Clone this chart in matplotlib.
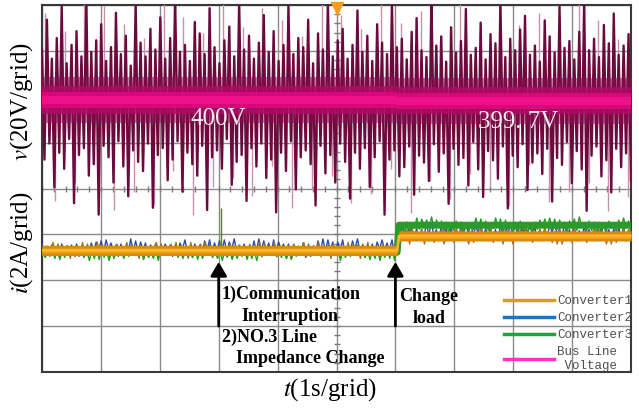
import numpy as np
import matplotlib.pyplot as plt
from matplotlib.lines import Line2D

plt.rcParams['mathtext.fontset'] = 'stix'
SERIF = 'Liberation Serif'

# scope time base: 1 s/grid, 10 grids
t_start, t_end = 0.0, 10.0
t_step = 6.03      # load change
t_comm = 3.0       # communication interruption + NO.3 line impedance change

# bus line voltage (V): level before / after the load change
v_level = [400.0, 399.7]
# upward / downward excursions of the voltage trace (V)
v_hi = [22, 35, 18, 27, 41, 16, 24, 30, 19, 44, 21, 26, 33, 17, 23, 38, 20, 28, 15, 42,
        25, 19, 31, 22, 36, 18, 27, 45, 21, 24, 17, 34, 29, 20, 40, 23, 16, 26, 32, 19,
        43, 22, 28, 18, 25, 37, 21, 30, 17, 24, 41, 20, 27, 23, 35, 16, 29, 22, 44, 19,
        26, 31, 18, 24, 39, 21, 28, 17, 33, 25, 20, 42, 23, 27, 18, 30, 36, 22, 19, 45,
        24, 28, 17, 32, 21, 26, 40, 20, 23, 34, 18, 29, 25, 43, 19, 27, 22, 31, 37, 20,
        24, 17, 35, 28, 21, 41, 23, 26, 18, 30, 44, 22, 27, 19, 33, 25, 38, 20, 24, 29]
v_lo = [26, 19, 38, 23, 30, 17, 45, 24, 21, 33, 28, 50, 20, 25, 36, 18, 29, 42, 22, 27,
        31, 19, 47, 24, 21, 35, 26, 18, 40, 23, 28, 33, 20, 48, 25, 22, 30, 17, 37, 27,
        24, 44, 21, 29, 19, 34, 26, 49, 23, 31, 18, 39, 25, 22, 28, 46, 20, 32, 24, 36,
        19, 27, 43, 23, 30, 21, 38, 25, 18, 50, 26, 22, 33, 29, 20, 41, 24, 27, 35, 19,
        31, 23, 45, 21, 28, 25, 37, 18, 30, 42, 22, 26, 34, 20, 47, 24, 29, 19, 39, 27,
        23, 32, 21, 44, 25, 28, 18, 36, 22, 30, 48, 24, 20, 33, 26, 40, 21, 29, 23, 35]
# pale overlaid spikes (V, signed)
v_light = [38, -44, 30, -36, 45, -28, 41, -48, 33, -40, 27, -46, 43, -31, 36, -50, 29, -38, 44, -34,
           32, -42, 40, -29, 35, -47, 28, -39, 46, -33, 37, -45, 31, -41, 42, -30, 34, -49, 39, -35,
           26, -43, 45, -32, 30, -37, 41, -46, 33, -28, 38, -44, 29, -40, 44, -36, 35, -48, 27, -42]

# converter currents (A): level before / after the load change
i1_level = [5.30, 5.93]
i2_level = [5.40, 6.12]
i3_level = [5.22, 6.40]
# ripple amplitude per sample, one digit each, sign alternates sample to sample
i1_ripple = ("2413524132" "3524135241" "1352413524" "4231524315" "2514325143" "3142531425"
             "5231425314" "2453124531" "3125431254" "4312541325" "1543215432" "3254132541"
             "2431524315" "4153241532" "3214532145" "5132451324" "2345123451" "4215342153"
             "1354213542" "3521435214" "2143521435" "4532145321" "3412534125" "2534125341")
i2_ripple = ("4625371846" "2735481927" "5362748153" "3846259374" "6257384912" "4738265183"
             "2946357284" "5372846193" "3648257392" "7254836147" "4836275918" "2574938265"
             "6385247193" "3927456182" "5284736491" "4637258394" "2859364718" "6372845196"
             "3548276394" "7263948152" "4825367193" "3697254816" "5426379284" "2738465913")
i3_ripple = ("3524163725" "4152736418" "2637451826" "5316247153" "3725164832" "4263751624"
             "1537264385" "3648152736" "2457361824" "5163742516" "3724516382" "4261537452"
             "2835146273" "3517264815" "4628351736" "2374615283" "5146372541" "3625147362"
             "4513726854" "2736451827" "3452617364" "5237416582" "2645371526" "4316527348")
ripple_unit = {'i1': 0.07, 'i2': 0.045, 'i3': 0.045}   # A per digit
# green glitch at the interruption instant (t, A)
i3_glitch = (3.04, 7.15)

legend_labels = ['Converter1', 'Converter2', 'Converter3', 'Bus Line\n Voltage']
legend_colors = ['#d4a017', '#1a75c9', '#1fa33a', '#ff33cc']


def stepped(t, level):
    return np.where(t < t_step, level[0], level[1])


def step_line(level):
    return np.array([level[0], level[0], level[1], level[1]])


def ripple_trace(digits, unit, level, t0):
    amp = np.array([int(c) for c in digits], dtype=float) * unit
    amp[1::2] *= -1
    t = np.linspace(t0, t_end, len(amp))
    return t, stepped(t, level) + amp


fig = plt.figure(figsize=(6.39, 4.08), dpi=100)
ax = fig.add_axes([42 / 639, 1 - 372 / 408, 589 / 639, 367 / 408])
ax.set_xlim(t_start, t_end)
ax.set_ylim(0, 16)
ax.set_xticks(np.arange(0, 11, 1))
ax.set_yticks(np.arange(0, 17, 2))
ax.tick_params(length=0, labelbottom=False, labelleft=False)
ax.grid(True, color='#8a8a8a', lw=1.0)
ax.set_axisbelow(True)
for s in ax.spines.values():
    s.set_color('#3a3a3a')
    s.set_linewidth(1.5)

# centre cross fine ticks
ax.plot(np.arange(0, 10.01, 0.2), np.full(51, 8.0), ls='none', marker='|', ms=5,
        mew=1, color='#7a7a7a', zorder=1)
ax.plot(np.full(41, 5.0), np.arange(0, 16.01, 0.4), ls='none', marker='_', ms=5,
        mew=1, color='#7a7a7a', zorder=1)

# ---- voltage on its own scale (20 V/grid)
axv = ax.twinx()
axv.set_ylim(281.4, 441.4)
axv.set_yticks([])
for s in axv.spines.values():
    s.set_visible(False)

n = len(v_hi)
tv = np.linspace(t_start, t_end, 2 * n)
vdev = np.empty(2 * n)
vdev[0::2] = v_hi
vdev[1::2] = -np.array(v_lo)
tl = np.linspace(0.05, 9.95, len(v_light))
axv.vlines(tl, stepped(tl, v_level), stepped(tl, v_level) + np.array(v_light),
           color='#c990ab', lw=1.0, zorder=1)
axv.plot(tv, stepped(tv, v_level) + vdev, color='#6c0a3e', lw=1.7, zorder=2)

tt = np.array([t_start, t_step, t_step, t_end])
lev = step_line(v_level)
for half, col, a in [(10, '#8a0b50', 0.5), (6, '#b00a64', 0.8),
                     (3.5, '#d8087a', 1.0), (1.8, '#ee1088', 1.0)]:
    axv.fill_between(tt, lev - half, lev + half, color=col, alpha=a, lw=0, zorder=3)

axv.text(2.99, 391.7, '400V', color='#f6e8ef', fontsize=18, family=SERIF,
         ha='center', va='center', zorder=5)
axv.text(8.08, 390.4, '399. 7V', color='#f6e8ef', fontsize=18, family=SERIF,
         ha='center', va='center', zorder=5)
axv.plot(5.0, 440.2, marker='v', ms=8, color='#ff9a1a', clip_on=False, zorder=10)

# ---- currents (2 A/grid)
ti = np.array([t_start, t_step, t_step + 0.03, t_end])

t2, y2 = ripple_trace(i2_ripple, ripple_unit['i2'], i2_level, 0.0)
ax.plot(t2, y2, color='#3448a8', lw=1.0, zorder=3.0)

t1, y1 = ripple_trace(i1_ripple, ripple_unit['i1'], i1_level, 0.02)
ax.plot(t1, y1, color='#a8701c', lw=1.0, zorder=3.1)

t3, y3 = ripple_trace(i3_ripple, ripple_unit['i3'], i3_level, 0.01)
ax.plot(t3, y3, color='#22a022', lw=1.0, zorder=3.2)
ax.vlines(i3_glitch[0], i3_level[0], i3_glitch[1], color='#22a022', lw=1.0, zorder=3.2)
ax.plot(ti, step_line(i3_level), color='#2a9a2a', lw=5, zorder=3.2)

i1_line = step_line(i1_level)
ax.fill_between(ti, i1_line - 0.22, i1_line + 0.22, color='#d98a10', lw=0, zorder=3.5)
ax.fill_between(ti, i1_line - 0.11, i1_line + 0.11, color='#f2a012', lw=0, zorder=3.55)
ax.plot(ti, i1_line, color='#ffb830', lw=1.8, zorder=3.6)

# events
arrow = dict(arrowstyle='-|>,head_length=0.6,head_width=0.35', color='black', lw=2,
             mutation_scale=14, shrinkA=0, shrinkB=0)
ax.annotate('', xy=(t_comm, 4.8), xytext=(t_comm, 2.0), arrowprops=arrow, zorder=6)
ax.annotate('', xy=(t_step - 0.03, 4.8), xytext=(t_step - 0.03, 2.0), arrowprops=arrow, zorder=6)

bold = dict(fontsize=13, fontweight='bold', family=SERIF, va='center', ha='left', zorder=6)
ax.text(3.05, 3.40, '1)Communication', **bold)
ax.text(3.38, 2.44, 'Interruption', **bold)
ax.text(3.05, 1.53, '2)NO.3 Line', **bold)
ax.text(3.29, 0.57, 'Impedance Change', **bold)
ax.text(6.57, 3.27, 'Change', fontsize=13, fontweight='bold', family=SERIF,
        va='center', ha='center', zorder=6)
ax.text(6.57, 2.35, 'load', fontsize=13, fontweight='bold', family=SERIF,
        va='center', ha='center', zorder=6)

handles = [Line2D([], [], color=c, lw=2.5) for c in legend_colors]
leg = axv.legend(handles, legend_labels, loc='upper left', bbox_to_anchor=(0.784, 0.21),
                 frameon=False, handlelength=4, handletextpad=0.25, labelspacing=0.4,
                 borderpad=0, borderaxespad=0, prop=dict(family='Liberation Mono', size=9))
for txt in leg.get_texts():
    txt.set_color('#505050')

fig.text(0.034, 0.75, r'$v$(20V/grid)', rotation=90, fontsize=18, family=SERIF,
         ha='center', va='center')
fig.text(0.034, 0.404, r'$i$(2A/grid)', rotation=90, fontsize=18, family=SERIF,
         ha='center', va='center')
fig.text(0.516, 0.044, r'$t$(1s/grid)', fontsize=18, family=SERIF, ha='center', va='center')

fig.savefig('out.png', dpi=100)
